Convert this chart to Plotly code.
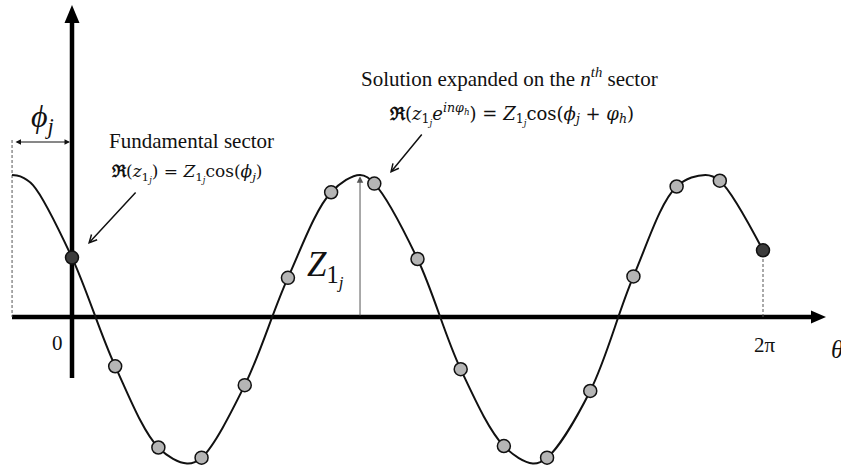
import math
import plotly.graph_objects as go

# ---- data -----------------------------------------------------------------
N_SECTORS = 16
sector_index = list(range(N_SECTORS + 1))
# real part of the solution sampled on each sector (Z = 1)
sector_value = [0.41, -0.34, -0.90, -0.97, -0.47, 0.27, 0.86, 0.92, 0.40,
                -0.36, -0.89, -0.97, -0.51, 0.28, 0.90, 0.94, 0.46]

# continuous response, including the extrema between sectors
curve_theta = [-0.545, -0.470, -0.355, 0.000, 0.393, 0.785, 1.046, 1.178, 1.571,
               1.963, 2.356, 2.619, 2.749, 3.142, 3.534, 3.927, 4.190, 4.320,
               4.712, 5.105, 5.498, 5.760, 5.890, 6.283]
curve_value = [0.98, 0.97, 0.91, 0.41, -0.34, -0.90, -1.01, -0.97, -0.47,
               0.27, 0.86, 0.98, 0.92, 0.40, -0.36, -0.89, -1.01, -0.97,
               -0.51, 0.28, 0.90, 0.98, 0.94, 0.46]

PHI_J = 0.545          # phase offset of the fundamental sector
PEAK_THETA = 2.619     # crest used to show the amplitude
PEAK_VALUE = 0.98

tick_labels = ["0", "2π"]

# ---- geometry ---------------------------------------------------------------
W, H = 841, 472
X0, X2PI = 72, 763     # pixel columns of theta = 0 and theta = 2*pi
Y0, YS = 317, 145      # pixel row of the theta axis, pixels per unit amplitude
sx = (X2PI - X0) / (2 * math.pi)
x_range = [(0 - X0) / sx, (W - X0) / sx]
y_range = [(Y0 - H) / YS, Y0 / YS]


def px(x):
    return x / W


def py(y):
    return 1 - y / H


sector_theta = [2 * math.pi * k / N_SECTORS for k in sector_index]
is_end = [k in (0, N_SECTORS) for k in sector_index]

SERIF = "Liberation Serif, Times New Roman, serif"
MATH = "DejaVu Serif, Liberation Serif, serif"
INK = "#111111"

fig = go.Figure()

fig.add_trace(go.Scatter(
    x=curve_theta, y=curve_value, mode="lines",
    line=dict(color=INK, width=2, shape="spline", smoothing=1.0),
    hoverinfo="skip", showlegend=False))

fig.add_trace(go.Scatter(
    x=[t for t, e in zip(sector_theta, is_end) if not e],
    y=[v for v, e in zip(sector_value, is_end) if not e],
    mode="markers",
    marker=dict(size=13, color="#b5b5b5", line=dict(color=INK, width=1.5)),
    showlegend=False))

fig.add_trace(go.Scatter(
    x=[t for t, e in zip(sector_theta, is_end) if e],
    y=[v for v, e in zip(sector_value, is_end) if e],
    mode="markers",
    marker=dict(size=13, color="#3c3c3c", line=dict(color=INK, width=1.5)),
    showlegend=False))

shapes = []
# theta axis with arrow
shapes.append(dict(type="line", xref="paper", yref="y", x0=px(12), x1=px(815),
                   y0=0, y1=0, line=dict(color="black", width=4.5), layer="below"))
shapes.append(dict(type="path", xref="paper", yref="paper",
                   path=f"M {px(811)},{py(310.5)} L {px(826)},{py(317)} L {px(811)},{py(323.5)} Z",
                   fillcolor="black", line=dict(width=0)))
# vertical axis with arrow
shapes.append(dict(type="line", xref="x", yref="paper", x0=0, x1=0,
                   y0=py(378), y1=py(20), line=dict(color="black", width=4.5),
                   layer="below"))
shapes.append(dict(type="path", xref="paper", yref="paper",
                   path=f"M {px(64.5)},{py(23)} L {px(72)},{py(5)} L {px(79.5)},{py(23)} Z",
                   fillcolor="black", line=dict(width=0)))
# dashed guides
shapes.append(dict(type="line", xref="x", yref="paper", x0=-PHI_J, x1=-PHI_J,
                   y0=py(140), y1=py(317),
                   line=dict(color="#555555", width=1, dash="3px,2px"), layer="below"))
shapes.append(dict(type="line", xref="x", yref="y", x0=2 * math.pi, x1=2 * math.pi,
                   y0=0, y1=sector_value[-1],
                   line=dict(color="#555555", width=1, dash="3px,2px"), layer="below"))

annotations = []


def label(text, x, y, size, family=SERIF, xanchor="center", yanchor="middle"):
    annotations.append(dict(
        text=text, xref="paper", yref="paper", x=px(x), y=py(y),
        xanchor=xanchor, yanchor=yanchor, showarrow=False,
        font=dict(family=family, size=size, color=INK)))


SUBJ = "<sub>1<sub><i>j</i></sub></sub>"

label("Fundamental sector", 191, 141, 21)
label(f"<b>ℜ</b>(<i>z</i>{SUBJ}) = <i>Z</i>{SUBJ}cos(<i>ϕ</i><sub><i>j</i></sub>)",
      187, 173, 17, family=MATH)
label("Solution expanded on the <i>n</i><sup><i>th</i></sup> sector", 509, 77, 21)
label(f"<b>ℜ</b>(<i>z</i>{SUBJ}<i>e</i><sup><i>inφ</i><sub><i>h</i></sub></sup>) = "
      f"<i>Z</i>{SUBJ}cos(<i>ϕ</i><sub><i>j</i></sub> + <i>φ</i><sub><i>h</i></sub>)",
      511, 114, 18, family=MATH)
label("<i>ϕ</i><sub><i>j</i></sub>", 42, 118, 32)
label(f"<i>Z</i>{SUBJ}", 305, 268, 35, xanchor="left")
label(tick_labels[0], 57, 343, 21)
label(tick_labels[1], 765, 345, 21)
label("<i>θ</i>", 829, 349, 25, xanchor="left")

# arrows
annotations.append(dict(x=px(70), y=py(142), xref="paper", yref="paper",
                        ax=-56, ay=0, text="", showarrow=True, arrowside="end+start",
                        arrowhead=2, arrowsize=1.1, arrowwidth=1, arrowcolor=INK))
annotations.append(dict(x=px(88), y=py(244), xref="paper", yref="paper",
                        ax=49, ay=-53, text="", showarrow=True,
                        arrowhead=5, arrowsize=1, arrowwidth=1.5, arrowcolor=INK))
annotations.append(dict(x=px(390), y=py(173), xref="paper", yref="paper",
                        ax=33, ay=-40, text="", showarrow=True,
                        arrowhead=5, arrowsize=1, arrowwidth=1.5, arrowcolor=INK))
annotations.append(dict(x=PEAK_THETA, y=PEAK_VALUE - 0.01, xref="x", yref="y",
                        ax=PEAK_THETA, ay=0, axref="x", ayref="y", text="",
                        showarrow=True, arrowhead=2, arrowsize=1.3, arrowwidth=1,
                        arrowcolor="#555555", standoff=0))

fig.update_layout(
    width=W, height=H, margin=dict(l=0, r=0, t=0, b=0, pad=0),
    paper_bgcolor="white", plot_bgcolor="white",
    xaxis=dict(range=x_range, visible=False, fixedrange=True),
    yaxis=dict(range=y_range, visible=False, fixedrange=True),
    shapes=shapes, annotations=annotations, showlegend=False)

fig.write_html("out.html")
